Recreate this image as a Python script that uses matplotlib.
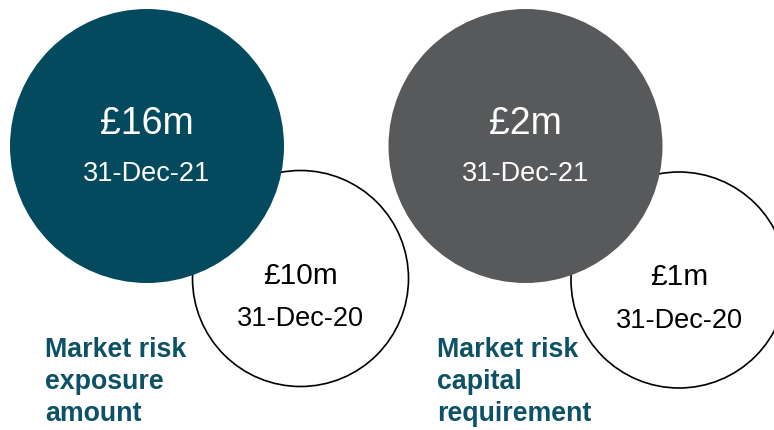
import matplotlib
matplotlib.use("Agg")
import matplotlib.pyplot as plt
from matplotlib.patches import Circle

plt.rcParams['font.family'] = ['Liberation Sans', 'DejaVu Sans']

# values shown in each pair of bubbles
metrics = ["Market risk\nexposure\namount", "Market risk\ncapital\nrequirement"]
current_values = [16, 2]
prior_values = [10, 1]
current_date = "31-Dec-21"
prior_date = "31-Dec-20"
current_colors = ["#044a5e", "#58595b"]
label_color = "#0d5166"

fig = plt.figure(figsize=(7.74, 4.30), dpi=100)
ax = fig.add_axes([0, 0, 1, 1])
ax.set_xlim(0, 774)
ax.set_ylim(430, 0)
ax.set_aspect("equal")
ax.axis("off")

# layout of each group: big bubble centre, small bubble centre, label anchor
groups = [
    dict(big=(147, 146), small=(300.5, 278.5), label=(45, 337)),
    dict(big=(525.5, 146), small=(679, 280), label=(437, 337)),
]
big_r, small_r = 137, 108

for i, g in enumerate(groups):
    sx, sy = g["small"]
    ax.add_patch(Circle((sx, sy), small_r, facecolor="white",
                        edgecolor="black", linewidth=1.2, zorder=1))
    ax.text(sx, sy - 3, f"£{prior_values[i]}m", ha="center", va="center",
            fontsize=21.5, color="black", zorder=3)
    ax.text(sx, sy + 41, prior_date, ha="center", va="center",
            fontsize=19.5, color="black", zorder=3)

    bx, by = g["big"]
    ax.add_patch(Circle((bx, by), big_r, facecolor=current_colors[i],
                        edgecolor="none", zorder=2))
    ax.text(bx, by - 22, f"£{current_values[i]}m", ha="center", va="center",
            fontsize=27, color="white", zorder=3)
    ax.text(bx, by + 28, current_date, ha="center", va="center",
            fontsize=19.5, color="white", zorder=3)

    lx, ly = g["label"]
    ax.text(lx, ly, metrics[i], ha="left", va="top", fontsize=19.3,
            fontweight="bold", color=label_color, linespacing=1.3, zorder=4)

fig.savefig("out.png", dpi=100)
